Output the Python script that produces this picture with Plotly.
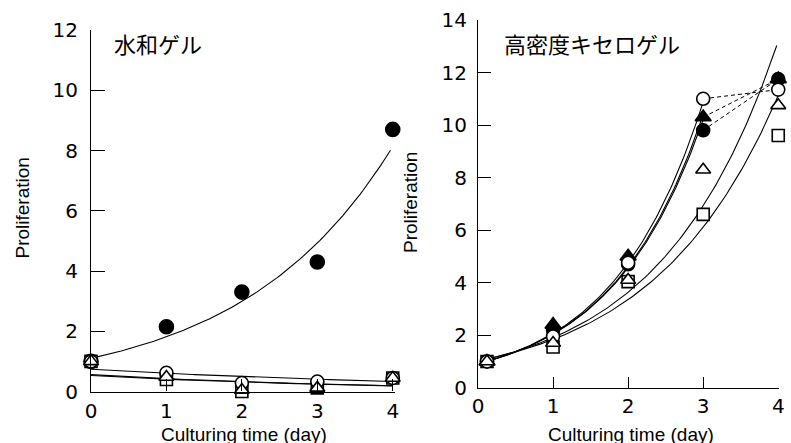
import numpy as np
import plotly.graph_objects as go

# ---------------- data ----------------
days_left = [0, 1, 2, 3, 4]
hyd_filled_circle = [1.0, 2.15, 3.3, 4.3, 8.7]
hyd_open_square = [1.0, 0.40, 0.0, 0.12, 0.45]
hyd_open_circle = [1.0, 0.62, 0.28, 0.33, 0.45]
hyd_open_triangle = [1.0, 0.48, 0.05, 0.12, 0.45]

days_right = [0.12, 1, 2, 3, 4]
xer_filled_circle = [1.0, 2.2, 4.7, 9.8, 11.75]
xer_filled_triangle = [1.0, 2.4, 5.0, 10.3, 11.75]
xer_open_square = [1.0, 1.55, 4.04, 6.6, 9.6]
xer_open_circle = [1.0, 1.95, 4.76, 11.0, 11.35]
xer_open_triangle = [1.0, 1.7, 4.1, 8.3, 10.75]

# exponential fit curves y = a * exp(b * x), parameters
left_fit_a = [1.1, 0.74, 0.56, 0.53]
left_fit_b = [0.5, -0.2, -0.27, -0.26]
left_fit_start = [0, 0, 0, 0]
left_fit_end = [3.97, 4, 4, 4]

right_fit_a = [0.905, 0.907, 0.91, 1.0, 1.01]
right_fit_b = [0.829, 0.813, 0.806, 0.645, 0.6]
right_fit_start = [0.12, 0.12, 0.12, 0.12, 0.12]
right_fit_end = [3, 3, 3, 3.98, 4.0]

left_title = "水和ゲル"
right_title = "高密度キセロゲル"
x_title = "Culturing time (day)"
y_title = "Proliferation"
left_yticks = [0, 2, 4, 6, 8, 10, 12]
right_yticks = [0, 2, 4, 6, 8, 10, 12, 14]
xticks = [0, 1, 2, 3, 4]

W, H = 791, 443
fig = go.Figure()

def px(v):
    return v / W

def py(v):
    return 1 - v / H

# ---------------- fit curves ----------------
for a, b, s, e in zip(left_fit_a, left_fit_b, left_fit_start, left_fit_end):
    xs = np.linspace(s, e, 120)
    fig.add_trace(go.Scatter(x=xs, y=a * np.exp(b * xs), mode="lines",
                             line=dict(color="black", width=1.1),
                             xaxis="x", yaxis="y", showlegend=False, hoverinfo="skip"))
for a, b, s, e in zip(right_fit_a, right_fit_b, right_fit_start, right_fit_end):
    xs = np.linspace(s, e, 120)
    fig.add_trace(go.Scatter(x=xs, y=a * np.exp(b * xs), mode="lines",
                             line=dict(color="black", width=1.1),
                             xaxis="x2", yaxis="y2", showlegend=False, hoverinfo="skip"))

# dashed connectors day 3 -> day 4 (right chart)
for ser in (xer_filled_circle, xer_filled_triangle, xer_open_circle):
    fig.add_trace(go.Scatter(x=days_right[3:5], y=ser[3:5], mode="lines",
                             line=dict(color="black", width=1, dash="4px,3px"),
                             xaxis="x2", yaxis="y2", showlegend=False, hoverinfo="skip"))

def mk(symbol, filled, size):
    return dict(symbol=symbol, size=size,
                color="black" if filled else "white",
                line=dict(color="black", width=1.6))

# ---------------- markers (left) ----------------
left_series = [
    (hyd_filled_circle, "circle", True, 14),
    (hyd_open_square, "square", False, 12),
    (hyd_open_circle, "circle", False, 13),
    (hyd_open_triangle, "triangle-up", False, 13),
]
for ys, sym, fill, size in left_series:
    fig.add_trace(go.Scatter(x=days_left, y=ys, mode="markers",
                             marker=mk(sym, fill, size), cliponaxis=False,
                             xaxis="x", yaxis="y", showlegend=False))

# ---------------- markers (right) ----------------
right_series = [
    (xer_filled_circle, "circle", True, 13),
    (xer_filled_triangle, "triangle-up", True, 14),
    (xer_open_square, "square", False, 12),
    (xer_open_circle, "circle", False, 13),
    (xer_open_triangle, "triangle-up", False, 13),
]
for ys, sym, fill, size in right_series:
    fig.add_trace(go.Scatter(x=days_right, y=ys, mode="markers",
                             marker=mk(sym, fill, size), cliponaxis=False,
                             xaxis="x2", yaxis="y2", showlegend=False))

tickfont = dict(family="DejaVu Sans", size=20, color="black")
axis_common = dict(showline=True, linecolor="black", linewidth=1.2,
                   ticks="inside", tickcolor="black", tickwidth=1.2,
                   showgrid=False, zeroline=False, tickfont=tickfont,
                   automargin=False)

fig.update_layout(
    template="none",
    width=W, height=H,
    margin=dict(l=0, r=0, t=0, b=0, autoexpand=False),
    paper_bgcolor="white", plot_bgcolor="white",
    xaxis=dict(domain=[px(91), px(395)], range=[0, 4.03], tickvals=xticks,
               ticklen=12, anchor="y", ticklabelstandoff=1, **axis_common),
    yaxis=dict(domain=[py(391.5), py(30)], range=[0, 12], tickvals=left_yticks,
               ticklen=14, anchor="x", ticklabelstandoff=8, **axis_common),
    xaxis2=dict(domain=[px(478), px(779)], range=[0, 4.01], tickvals=xticks,
                ticklen=11, anchor="y2", ticklabelstandoff=0, **axis_common),
    yaxis2=dict(domain=[py(387.7), py(20)], range=[0, 14], tickvals=right_yticks,
                ticklen=13, anchor="x2", ticklabelstandoff=6, **axis_common),
)

ann_font = dict(family="Liberation Sans, Arial", size=19, color="black")
cjk_font = dict(family="Noto Sans CJK JP", size=22, color="black")
annotations = [
    dict(text=left_title, x=px(112), y=py(43), xanchor="left", yanchor="middle", font=cjk_font),
    dict(text=right_title, x=px(502), y=py(42.5), xanchor="left", yanchor="middle", font=cjk_font),
    dict(text=y_title, x=px(21.5), y=py(208), textangle=-90, xanchor="center", yanchor="middle", font=ann_font),
    dict(text=y_title, x=px(410), y=py(203), textangle=-90, xanchor="center", yanchor="middle", font=ann_font),
    dict(text=x_title, x=px(243.5), y=py(434.5), xanchor="center", yanchor="middle", font=ann_font),
    dict(text=x_title, x=px(631), y=py(434.5), xanchor="center", yanchor="middle", font=ann_font),
]
for a in annotations:
    a.update(xref="paper", yref="paper", showarrow=False)
fig.update_layout(annotations=annotations)

fig.write_html("out.html", config={"displayModeBar": False},
               post_script="document.body.style.margin='0';document.body.style.overflow='hidden';")
